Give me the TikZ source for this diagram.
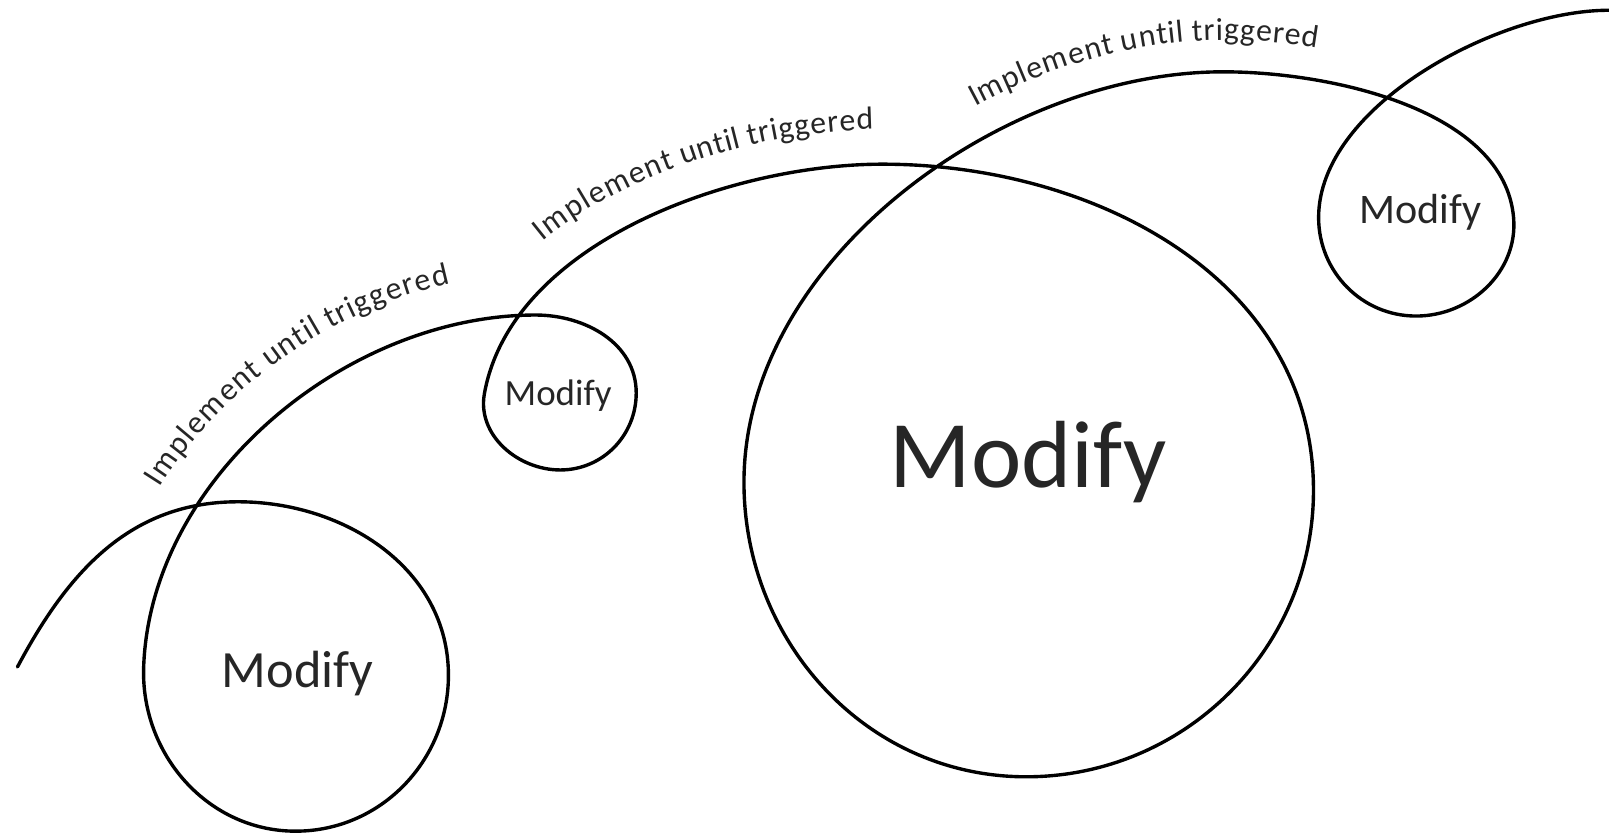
\documentclass[tikz,border=0pt]{standalone}
\usepackage{fontspec}
\setmainfont{Carlito}
\usepackage{xcolor}
\usetikzlibrary{decorations.text}

\tikzset{
  loopline/.style={line width=3.3pt, line cap=round},
  modify/.style={text=black!85, inner sep=0pt, anchor=base},
  trigger/.style={decorate, decoration={text along path, raise=31pt,
      text align={center, left indent=#1},
      text={|\fontsize{31}{31}\selectfont\color{black!85}|Implement until triggered}}},
}

\begin{document}
\begin{tikzpicture}[x=1pt, y=1pt]
  \useasboundingbox (0,0) rectangle (1568,813);

  % turning points of the line
  \coordinate (start)   at (17,163);
  \coordinate (top1)    at (232,324);
  \coordinate (right1)  at (437,155);
  \coordinate (bottom1) at (288,3);
  \coordinate (left1)   at (140,163);
  \coordinate (top2)    at (522,506);
  \coordinate (right2)  at (620,430);
  \coordinate (bottom2) at (546,355);
  \coordinate (left2)   at (472,429);
  \coordinate (top3)    at (860,653);
  \coordinate (right3)  at (1280,335);
  \coordinate (bottom3) at (1000,56);
  \coordinate (left3)   at (725,343);
  \coordinate (top4)    at (1192,743);
  \coordinate (right4)  at (1475,601);
  \coordinate (bottom4) at (1380,505);
  \coordinate (left4)   at (1285,601);
  \coordinate (finish)  at (1568,803);

  \draw[loopline] (start) to[out=62, in=180] (top1)
    to[out=0, in=90] (right1) to[out=-90, in=0] (bottom1)
    to[out=180, in=-92] (left1) to[out=88, in=180, looseness=0.92] (top2)
    to[out=0, in=90] (right2) to[out=-90, in=0] (bottom2)
    to[out=180, in=-100] (left2) to[out=80, in=180, looseness=0.85] (top3)
    to[out=0, in=90] (right3) to[out=-90, in=0] (bottom3)
    to[out=180, in=-90] (left3) to[out=90, in=180, looseness=0.9] (top4)
    to[out=0, in=95, looseness=0.85] (right4) to[out=-85, in=0] (bottom4)
    to[out=180, in=-90] (left4) to[out=90, in=180, looseness=0.8] (finish);

  % labels riding on the line
  \path[trigger=88pt, decoration={raise=40pt}]
    (left1) to[out=88, in=180, looseness=0.92] (top2);
  \path[trigger=140pt, decoration={raise=34pt}]
    (left2) to[out=80, in=180, looseness=0.85] (top3);
  \path[trigger=180pt]
    (left3) to[out=90, in=180, looseness=0.9] (top4)
    to[out=0, in=95, looseness=0.85] (right4);

  \node[modify, font=\fontsize{51}{51}\selectfont] (m1) at (290,143) {Modify};
  \node[modify, font=\fontsize{36}{36}\selectfont] (m2) at (544,418) {Modify};
  \node[modify, font=\fontsize{93}{93}\selectfont] (m3) at (1002,338) {Modify};
  \node[modify, font=\fontsize{41}{41}\selectfont] (m4) at (1384,595) {Modify};
\end{tikzpicture}
\end{document}
